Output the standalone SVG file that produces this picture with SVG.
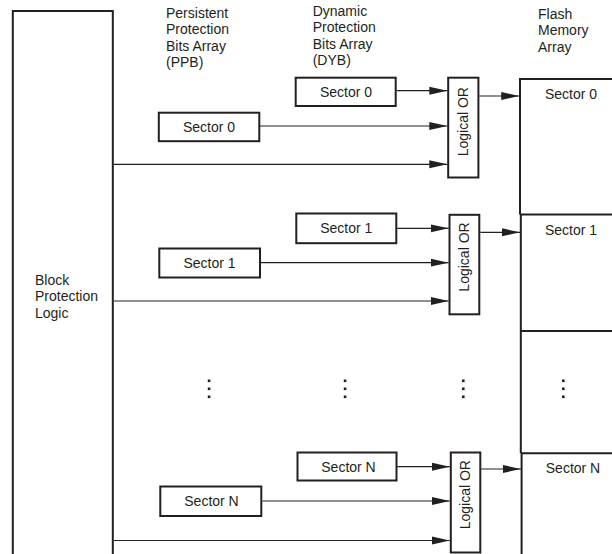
<svg xmlns="http://www.w3.org/2000/svg" width="612" height="554" viewBox="0 0 612 554">
<style>
text{font-family:"Liberation Sans",Arial,sans-serif;font-size:14px;fill:#231f20}
.m{text-anchor:middle}
.box{fill:#fff;stroke:#231f20;stroke-width:2}
.thick{fill:none;stroke:#231f20;stroke-width:2}
.ln{fill:none;stroke:#231f20;stroke-width:1.2}
.dot{fill:#231f20}
</style>
<defs>
<marker id="ah" markerUnits="userSpaceOnUse" markerWidth="19" markerHeight="10" refX="18" refY="5" orient="auto">
<path d="M0,1 L18,5 L0,9 z" fill="#231f20"/>
</marker>
</defs>

<g id="headers">
<text x="166" y="18">Persistent</text>
<text x="166" y="34.3">Protection</text>
<text x="166" y="50.6">Bits Array</text>
<text x="166" y="67">(PPB)</text>
<text x="312.7" y="16">Dynamic</text>
<text x="312.7" y="32.3">Protection</text>
<text x="312.7" y="48.6">Bits Array</text>
<text x="312.7" y="65">(DYB)</text>
<text x="538" y="19">Flash</text>
<text x="538" y="35.3">Memory</text>
<text x="538" y="51.6">Array</text>
</g>

<g id="block-protection-logic">
<path class="thick" d="M12.8,560 V11 H112.8 V560"/>
<text x="35" y="285">Block</text>
<text x="35" y="301.3">Protection</text>
<text x="35" y="317.6">Logic</text>
</g>

<g id="flash-array">
<path class="thick" d="M520,79 H614 M520,78 V214.5 M520.8,214.5 V453.3 M521.6,453.3 V556 M520,214.5 H614 M520.8,331 H614 M521.6,453.3 H614"/>
<text class="m" x="571" y="99">Sector 0</text>
<text class="m" x="571" y="235">Sector 1</text>
<text class="m" x="573" y="473.3">Sector N</text>
</g>

<g id="ppb-sector-0"><rect class="box" x="158.8" y="112.7" width="100.5" height="28.5"/><text class="m" x="209" y="132.3">Sector 0</text></g>
<g id="ppb-sector-1"><rect class="box" x="159.3" y="248.5" width="100.7" height="29"/><text class="m" x="209.5" y="268">Sector 1</text></g>
<g id="ppb-sector-n"><rect class="box" x="160.3" y="486.5" width="101" height="29.5"/><text class="m" x="211.5" y="506">Sector N</text></g>

<g id="dyb-sector-0"><rect class="box" x="295.7" y="77.7" width="100" height="28.3"/><text class="m" x="346" y="96.7">Sector 0</text></g>
<g id="dyb-sector-1"><rect class="box" x="296.3" y="213.5" width="100" height="29.7"/><text class="m" x="346.3" y="233.3">Sector 1</text></g>
<g id="dyb-sector-n"><rect class="box" x="297.5" y="452.5" width="99" height="28"/><text class="m" x="348.5" y="471.7">Sector N</text></g>

<g id="or-0"><rect class="box" x="448.2" y="77.7" width="30.2" height="99.8"/><text class="m" transform="translate(467.8,121.7) rotate(-90)">Logical OR</text></g>
<g id="or-1"><rect class="box" x="449.5" y="214.8" width="29.8" height="99.5"/><text class="m" transform="translate(469,257) rotate(-90)">Logical OR</text></g>
<g id="or-n"><rect class="box" x="450.8" y="452.5" width="29.5" height="100"/><text class="m" transform="translate(470.2,494.7) rotate(-90)">Logical OR</text></g>

<g id="ellipsis">
<rect class="dot" x="207.8" y="379.5" width="2.6" height="2.6"/><rect class="dot" x="207.8" y="387.5" width="2.6" height="2.6"/><rect class="dot" x="207.8" y="395.5" width="2.6" height="2.6"/>
<rect class="dot" x="343.8" y="379.5" width="2.6" height="2.6"/><rect class="dot" x="343.8" y="387.5" width="2.6" height="2.6"/><rect class="dot" x="343.8" y="395.5" width="2.6" height="2.6"/>
<rect class="dot" x="462" y="379.5" width="2.6" height="2.6"/><rect class="dot" x="462" y="387.5" width="2.6" height="2.6"/><rect class="dot" x="462" y="395.5" width="2.6" height="2.6"/>
<rect class="dot" x="562" y="379.5" width="2.6" height="2.6"/><rect class="dot" x="562" y="387.5" width="2.6" height="2.6"/><rect class="dot" x="562" y="395.5" width="2.6" height="2.6"/>
</g>

<g id="connectors">
<line class="ln" x1="396.7" y1="90.7" x2="447.3" y2="90.7" marker-end="url(#ah)"/>
<line class="ln" x1="260" y1="126" x2="447.3" y2="126" marker-end="url(#ah)"/>
<line class="ln" x1="113.8" y1="164.3" x2="447.3" y2="164.3" marker-end="url(#ah)"/>
<line class="ln" x1="479.3" y1="96" x2="519.2" y2="96" marker-end="url(#ah)"/>

<line class="ln" x1="397.3" y1="228.3" x2="448.6" y2="228.3" marker-end="url(#ah)"/>
<line class="ln" x1="261" y1="262.7" x2="448.6" y2="262.7" marker-end="url(#ah)"/>
<line class="ln" x1="113.8" y1="301" x2="448.6" y2="301" marker-end="url(#ah)"/>
<line class="ln" x1="480.3" y1="232.3" x2="520" y2="232.3" marker-end="url(#ah)"/>

<line class="ln" x1="397.3" y1="466.7" x2="449.8" y2="466.7" marker-end="url(#ah)"/>
<line class="ln" x1="262.3" y1="501" x2="449.8" y2="501" marker-end="url(#ah)"/>
<line class="ln" x1="113.8" y1="540.5" x2="449.8" y2="540.5" marker-end="url(#ah)"/>
<line class="ln" x1="481.3" y1="469" x2="520.8" y2="469" marker-end="url(#ah)"/>
</g>
</svg>
